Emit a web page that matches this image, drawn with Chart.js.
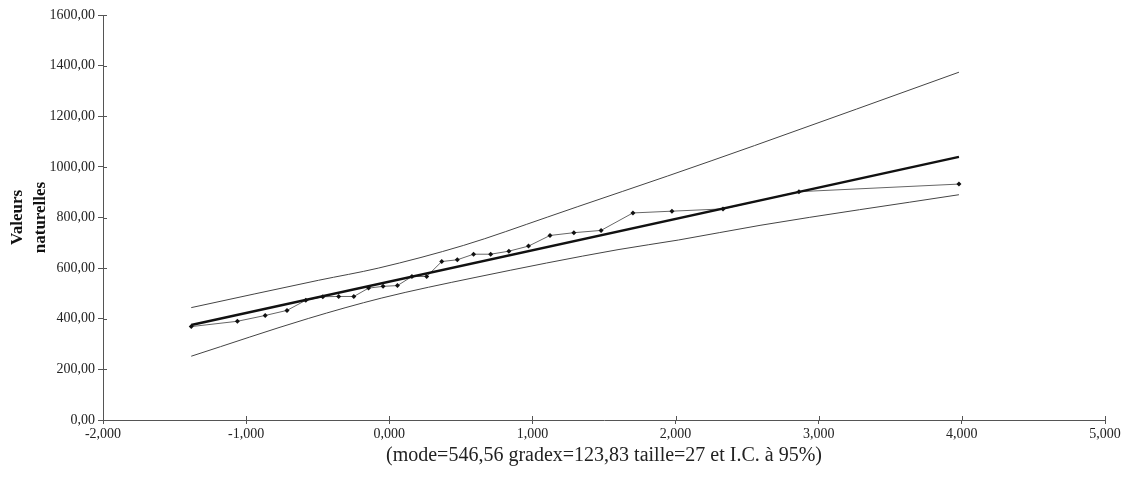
<!DOCTYPE html>
<html>
<head>
<meta charset="utf-8">
<script src="https://cdn.jsdelivr.net/npm/chart.js@4"></script>
<style>
  html, body { margin: 0; padding: 0; background: #fff; }
  #wrap { width: 1123px; height: 480px; }
</style>
</head>
<body>
<div id="wrap"><canvas id="gumbelChart" width="1123" height="480"></canvas></div>
<script>
// variable réduite de Gumbel (x) et valeurs observées triées (y)
const reducedVar = [-1.3835, -1.0614, -0.8669, -0.7145, -0.5832, -0.4644, -0.3535, -0.2476, -0.1448,
  -0.0436, 0.0571, 0.1584, 0.2612, 0.3665, 0.4754, 0.5888, 0.7083, 0.8356, 0.9727, 1.1226,
  1.2895, 1.4794, 1.7020, 1.9745, 2.3314, 2.8619, 3.9797];
const observed = [369, 390, 413, 433, 473, 487, 488, 488, 521, 528, 531, 567, 567, 626, 633, 655,
  655, 667, 687, 729, 740, 749, 818, 825, 834, 902, 932];

// droite de Gumbel
const fitX = [-1.3835, 3.9797];
const fitY = [375.2, 1039.4];

// intervalle de confiance 95%
const upperX = [-1.3835, -0.494, -0.077, 0.52, 1.107, 1.317, 1.945, 2.551, 3.9797];
const upperY = [444, 552, 600, 690, 802, 843, 964, 1084, 1374];
const lowerX = [-1.3835, -0.566, -0.052, 0.599, 1.598, 2.02, 2.59, 3.9797];
const lowerY = [252, 401, 482, 563, 673, 711, 769, 890];

const xTitle = '(mode=546,56 gradex=123,83 taille=27 et I.C. à 95%)';
const yTitle = ['Valeurs', 'naturelles'];

function toPoints(xs, ys) {
  return xs.map((x, i) => ({ x: x, y: ys[i] }));
}

const axisColor = '#555';
const serif = 'Liberation Serif';

// petits traits de graduation qui traversent les axes
const crossTicks = {
  id: 'crossTicks',
  afterDraw(chart) {
    const ctx = chart.ctx;
    const xs = chart.scales.x;
    const ys = chart.scales.y;
    ctx.save();
    ctx.strokeStyle = axisColor;
    ctx.lineWidth = 1;
    ctx.beginPath();
    for (const t of ys.ticks) {
      const py = Math.round(ys.getPixelForValue(t.value)) + 0.5;
      ctx.moveTo(xs.left, py);
      ctx.lineTo(xs.left + 4, py);
    }
    for (const t of xs.ticks) {
      const px = Math.round(xs.getPixelForValue(t.value)) + 0.5;
      ctx.moveTo(px, ys.bottom);
      ctx.lineTo(px, ys.bottom - 4);
    }
    ctx.stroke();
    ctx.restore();
  }
};

new Chart(document.getElementById('gumbelChart'), {
  type: 'scatter',
  data: {
    datasets: [
      {
        label: 'Observations',
        data: toPoints(reducedVar, observed),
        showLine: true,
        borderColor: '#666',
        borderWidth: 1,
        pointStyle: 'rectRot',
        pointRadius: 2.5,
        pointBackgroundColor: '#111',
        pointBorderColor: '#111',
        pointBorderWidth: 0,
        order: 2
      },
      {
        label: 'Gumbel',
        data: toPoints(fitX, fitY),
        showLine: true,
        borderColor: '#111',
        borderWidth: 2.5,
        pointRadius: 0,
        order: 1
      },
      {
        label: 'IC sup',
        data: toPoints(upperX, upperY),
        showLine: true,
        borderColor: '#444',
        borderWidth: 1,
        pointRadius: 0,
        cubicInterpolationMode: 'monotone',
        order: 3
      },
      {
        label: 'IC inf',
        data: toPoints(lowerX, lowerY),
        showLine: true,
        borderColor: '#444',
        borderWidth: 1,
        pointRadius: 0,
        cubicInterpolationMode: 'monotone',
        order: 3
      }
    ]
  },
  options: {
    responsive: false,
    animation: false,
    layout: { padding: { left: 0, right: 18, top: 15, bottom: 0 } },
    plugins: {
      legend: { display: false },
      tooltip: { enabled: false }
    },
    scales: {
      x: {
        type: 'linear',
        min: -2,
        max: 5,
        afterFit(scale) { scale.height = 60; },
        border: { color: axisColor, width: 1 },
        grid: { drawOnChartArea: false, color: axisColor, tickLength: 4 },
        ticks: {
          stepSize: 1,
          color: '#222',
          padding: 2,
          maxRotation: 0,
          font: { family: serif, size: 14 },
          callback: v => v.toFixed(3).replace('.', ',')
        },
        title: {
          display: true,
          text: xTitle,
          color: '#222',
          padding: { top: 0, bottom: 12 },
          font: { family: serif, size: 20 }
        }
      },
      y: {
        min: 0,
        max: 1600,
        afterFit(scale) { scale.width = 103; },
        border: { color: axisColor, width: 1 },
        grid: { drawOnChartArea: false, color: axisColor, tickLength: 5 },
        ticks: {
          stepSize: 200,
          color: '#222',
          padding: 3,
          font: { family: serif, size: 14 },
          callback: v => v.toFixed(2).replace('.', ',')
        },
        title: {
          display: true,
          text: yTitle,
          color: '#111',
          padding: { top: 7 },
          font: { family: serif, size: 17, weight: 'bold', lineHeight: 1.3 }
        }
      }
    }
  },
  plugins: [crossTicks]
});
</script>
</body>
</html>
